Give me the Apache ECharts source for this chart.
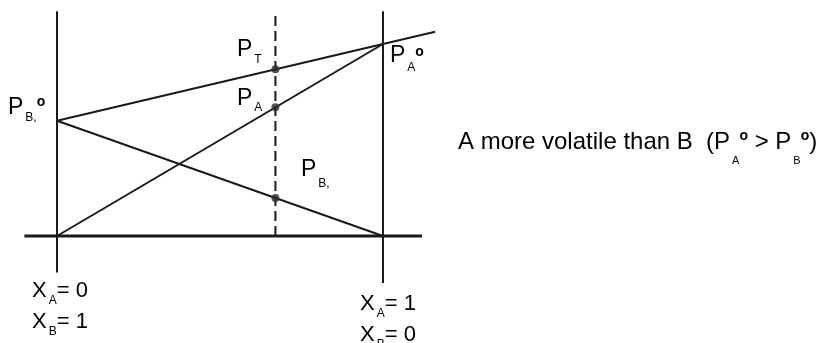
<!DOCTYPE html>
<html>
<head>
<meta charset="utf-8">
<script src="https://cdn.jsdelivr.net/npm/echarts@6/dist/echarts.min.js"></script>
<style>
  html, body { margin: 0; padding: 0; background: #fff; }
  #chart { width: 827px; height: 343px; }
</style>
</head>
<body>
<div id="chart"></div>
<script>
// mole fraction of A along x, vapour pressure (relative) along y
const pA0 = 1.0;
const pB0 = 0.6;
const xMix = 0.67;
const totalLine = [[0, 0.6], [1, 1.0], [1.16, 1.064]];
const paLine = [[0, 0], [1, 1.0]];
const pbLine = [[0, 0.6], [1, 0]];
const mixPoints = [[0.67, 0.868], [0.67, 0.67], [0.67, 0.198]];

const ink = '#1a1a1a';
const font = "'Liberation Sans', Arial, sans-serif";

// frame lines
const leftEdge = [[0, -0.19], [0, 1.17]];
const rightEdge = [[1, -0.245], [1, 1.17]];
const baseLine = [[-0.1, 0], [1.12, 0]];
const mixLine = [[xMix, 0], [xMix, 1.17]];

function richStyles(big, subOff, supOff, subSize, lh) {
  return {
    p: { fontSize: big, fontFamily: font, fill: '#000', lineHeight: lh },
    s: { fontSize: subSize, fontFamily: font, fill: '#000', verticalAlign: 'top',
         height: subOff * 2, lineHeight: 1, padding: [0, 0, 0, 2] },
    o: { fontSize: 14, fontWeight: 'bold', fontFamily: font, fill: '#000', verticalAlign: 'top',
         height: supOff * 2, lineHeight: 1 }
  };
}

function label(x, y, text, rich) {
  return {
    type: 'text', x: x, y: y, silent: true,
    style: { text: text, rich: rich, align: 'left', verticalAlign: 'top', font: '22px ' + font }
  };
}

function seg(data, width, type) {
  return {
    type: 'line', data: data, symbol: 'none', silent: true, clip: false,
    lineStyle: { color: ink, width: width, type: type || 'solid' }
  };
}

const chart = echarts.init(document.getElementById('chart'));
chart.setOption({
  animation: false,
  grid: { left: 24.4, right: 378.8, top: 5.6, bottom: 49.4 },
  xAxis: { type: 'value', min: -0.1, max: 1.2, show: false },
  yAxis: { type: 'value', min: -0.3, max: 1.2, show: false },
  series: [
    seg(leftEdge, 2),
    seg(rightEdge, 2),
    seg(baseLine, 3),
    seg(mixLine, 2, [10, 5]),
    seg(totalLine, 2),
    seg(paLine, 2),
    seg(pbLine, 2),
    {
      type: 'scatter', data: mixPoints, symbolSize: 8, silent: true, z: 5,
      itemStyle: { color: '#2a2a2a' }
    }
  ],
  graphic: [
    label(8, 93, '{p|P}{s|B,}{o|o}', richStyles(23, 25, 9.3, 12, 30)),
    label(390, 40.5, '{p|P}{s|A}{o|o}', richStyles(23, 27, 11.8, 12, 30)),
    label(237, 35, '{p|P}{s|T}', richStyles(23, 24.5, 0, 12, 30)),
    label(237, 84, '{p|P}{s|A}', richStyles(23, 23.5, 0, 12, 30)),
    label(301, 155, '{p|P}{s|B,}', richStyles(23, 28.5, 0, 12, 30)),
    label(32, 275, '{p|X}{s|A}{p|= 0}\n{p|X}{s|B}{p|= 1}', richStyles(22, 26, 0, 12, 31)),
    label(360, 288, '{p|X}{s|A}{p|= 1}\n{p|X}{s|B}{p|= 0}', richStyles(22, 26, 0, 12, 31)),
    label(458, 127, '{p|A more volatile than B  (P}{s|A}{o|o}{p| > P}{s|B}{o|o}{p|)}',
      richStyles(24, 34, 9.3, 11, 30))
  ]
});
window.onresize = chart.resize;
</script>
</body>
</html>
